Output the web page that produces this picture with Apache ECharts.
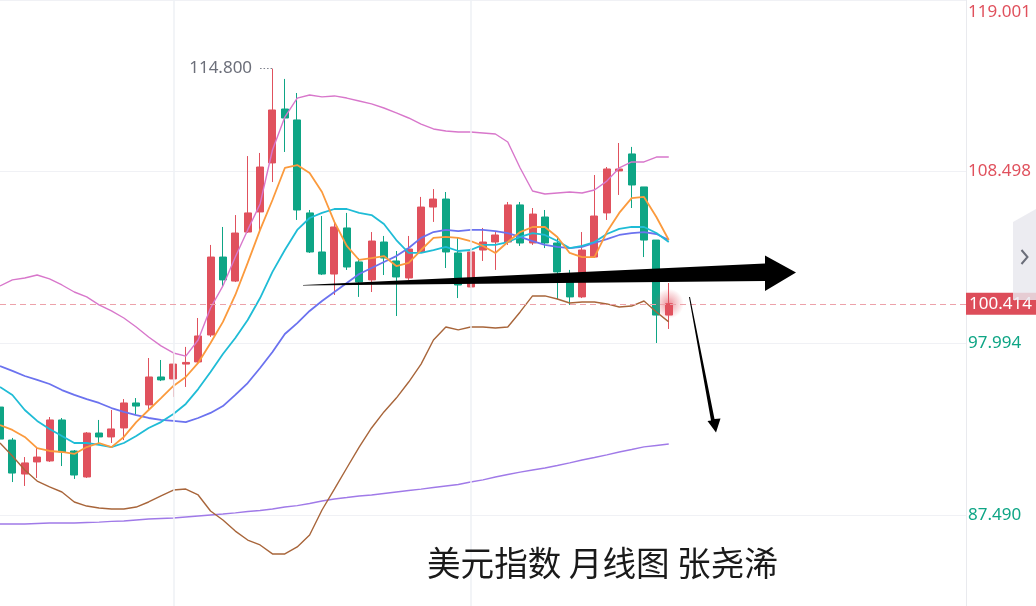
<!DOCTYPE html>
<html>
<head>
<meta charset="utf-8">
<script src="https://cdn.jsdelivr.net/npm/echarts@6/dist/echarts.min.js"></script>
<style>
  html, body { margin: 0; padding: 0; background: #ffffff; }
  #chart { width: 1036px; height: 606px; }
</style>
</head>
<body>
<div id="chart"></div>
<script>
// Monthly bars, 2020-11 .. 2025-05
const months = [
  '2020-11','2020-12',
  '2021-01','2021-02','2021-03','2021-04','2021-05','2021-06','2021-07','2021-08','2021-09','2021-10','2021-11','2021-12',
  '2022-01','2022-02','2022-03','2022-04','2022-05','2022-06','2022-07','2022-08','2022-09','2022-10','2022-11','2022-12',
  '2023-01','2023-02','2023-03','2023-04','2023-05','2023-06','2023-07','2023-08','2023-09','2023-10','2023-11','2023-12',
  '2024-01','2024-02','2024-03','2024-04','2024-05','2024-06','2024-07','2024-08','2024-09','2024-10','2024-11','2024-12',
  '2025-01','2025-02','2025-03','2025-04','2025-05'
];
const emptySlots = 24; // blank space to the right of the last bar

const open = [94.09, 92.07, 89.99, 90.73, 90.79, 93.30, 91.40, 89.81, 92.50, 92.26, 92.81, 94.34, 94.22, 95.93, 95.81, 96.72, 96.85, 98.50, 103.27, 101.80, 104.80, 106.03, 109.03, 112.33, 111.66, 105.97, 103.58, 102.23, 105.05, 102.97, 101.87, 104.19, 103.03, 101.99, 103.58, 106.33, 106.82, 103.52, 101.44, 103.70, 104.19, 104.19, 106.46, 104.13, 105.72, 104.13, 102.11, 100.83, 103.27, 105.97, 108.54, 109.58, 107.56, 104.31, 99.72];
const close = [92.13, 90.05, 90.67, 91.03, 93.30, 91.34, 89.93, 92.50, 92.26, 92.75, 94.34, 94.15, 95.93, 95.75, 96.72, 96.82, 98.44, 103.27, 101.87, 104.74, 105.97, 108.78, 112.27, 111.78, 106.15, 103.58, 102.23, 105.11, 102.66, 101.74, 104.25, 103.21, 102.05, 103.76, 106.33, 106.82, 103.58, 101.56, 103.58, 104.19, 104.62, 106.46, 104.13, 105.90, 104.13, 102.36, 100.83, 103.70, 105.78, 108.66, 108.66, 107.68, 104.31, 99.72, 100.414];
const low = [91.95, 89.50, 89.26, 89.75, 90.73, 90.48, 89.69, 89.75, 91.89, 91.89, 92.07, 93.60, 93.91, 95.68, 94.71, 95.32, 96.79, 98.38, 101.44, 101.74, 104.74, 104.74, 107.86, 109.70, 105.54, 103.52, 102.17, 100.95, 102.48, 100.83, 101.13, 102.17, 99.66, 101.87, 103.52, 105.42, 102.60, 100.76, 101.38, 103.03, 102.48, 104.01, 103.95, 104.01, 103.82, 100.70, 100.34, 100.76, 103.21, 105.54, 107.07, 106.27, 103.27, 98.01, 98.87];
const high = [94.52, 92.20, 91.03, 91.65, 93.48, 93.42, 91.46, 92.56, 93.30, 93.91, 94.58, 94.64, 97.09, 96.97, 97.46, 97.77, 99.54, 104.01, 105.11, 105.84, 109.45, 109.64, 114.80, 114.17, 113.31, 106.15, 105.78, 105.42, 105.97, 103.21, 104.80, 104.56, 103.64, 104.56, 106.95, 107.43, 107.25, 104.44, 103.82, 105.05, 104.80, 106.64, 106.64, 106.27, 106.15, 104.50, 102.48, 104.80, 108.29, 108.78, 110.25, 110.01, 107.56, 104.31, 101.68];

const ma5 = [92.99, 92.69, 92.26, 91.58, 91.40, 91.34, 91.22, 91.64, 91.89, 91.64, 92.26, 93.17, 93.91, 94.64, 95.38, 95.93, 96.79, 98.01, 99.30, 100.95, 102.91, 104.93, 106.76, 108.72, 108.90, 108.41, 107.25, 105.42, 103.95, 103.09, 103.21, 103.33, 102.72, 102.91, 103.70, 104.44, 104.50, 104.44, 104.25, 103.95, 103.52, 104.19, 104.80, 105.11, 105.11, 104.50, 103.52, 103.27, 103.27, 104.80, 105.97, 106.88, 106.95, 105.72, 104.31];
const ma10 = [95.32, 94.83, 93.91, 93.24, 92.75, 92.32, 91.89, 91.89, 91.77, 91.64, 91.89, 92.32, 92.81, 93.17, 93.66, 94.28, 95.19, 96.24, 97.34, 98.32, 99.42, 100.76, 102.36, 103.70, 104.93, 105.66, 105.97, 106.21, 106.21, 105.97, 105.84, 105.29, 104.31, 103.52, 103.52, 103.70, 103.89, 103.64, 103.70, 104.01, 104.01, 104.19, 104.50, 104.74, 104.62, 104.25, 103.82, 103.95, 104.19, 104.68, 104.99, 105.11, 105.11, 104.74, 104.19];
const ma20 = [96.60, 96.30, 95.99, 95.75, 95.50, 95.13, 94.83, 94.58, 94.34, 94.03, 93.79, 93.60, 93.42, 93.30, 93.24, 93.17, 93.42, 93.73, 94.15, 94.83, 95.56, 96.48, 97.46, 98.56, 99.23, 99.97, 100.58, 101.13, 101.68, 102.23, 102.60, 102.97, 103.33, 103.82, 104.44, 104.80, 104.93, 104.86, 104.93, 104.93, 104.86, 104.74, 104.50, 104.25, 104.01, 103.89, 103.82, 103.89, 104.13, 104.37, 104.62, 104.74, 104.80, 104.68, 104.31];
const bandUpper = [101.50, 101.87, 101.99, 102.17, 101.93, 101.56, 101.13, 100.83, 100.34, 99.97, 99.54, 98.99, 98.38, 97.83, 97.40, 97.21, 98.19, 100.15, 101.50, 103.27, 104.93, 106.52, 109.82, 111.84, 113.00, 113.19, 113.07, 113.13, 113.00, 112.82, 112.64, 112.39, 112.09, 111.78, 111.41, 111.11, 110.98, 110.92, 110.92, 110.86, 110.80, 110.31, 108.72, 107.31, 107.13, 107.19, 107.25, 107.19, 107.37, 107.92, 108.72, 109.09, 109.09, 109.39, 109.39];
const bandLower = [91.89, 91.09, 90.24, 89.56, 89.20, 88.89, 88.28, 88.03, 87.91, 87.85, 87.85, 87.97, 88.28, 88.65, 89.01, 89.07, 88.71, 87.73, 87.18, 86.50, 85.95, 85.65, 85.10, 85.10, 85.53, 86.26, 87.79, 89.07, 90.36, 91.64, 92.81, 93.79, 94.64, 95.62, 96.72, 98.19, 98.99, 98.81, 98.99, 98.99, 98.93, 98.99, 99.91, 100.89, 100.89, 100.70, 100.46, 100.52, 100.52, 100.40, 100.21, 100.27, 100.58, 99.91, 99.30];
const maLong = [86.93, 86.93, 86.93, 86.96, 86.99, 86.99, 86.99, 87.02, 87.05, 87.09, 87.12, 87.18, 87.24, 87.27, 87.30, 87.36, 87.42, 87.48, 87.54, 87.61, 87.70, 87.76, 87.85, 87.97, 88.06, 88.19, 88.34, 88.46, 88.55, 88.65, 88.71, 88.80, 88.89, 88.98, 89.07, 89.17, 89.26, 89.35, 89.50, 89.63, 89.81, 89.96, 90.11, 90.24, 90.36, 90.51, 90.67, 90.85, 91.00, 91.16, 91.34, 91.49, 91.65, 91.74, 91.83];

const yTicks = [87.490, 97.994, 108.498, 119.001];
const lastPrice = 100.414;
const peakValue = 114.800;
const peakIndex = 22;
const yearMarks = ['2022-01', '2024-01'];
const titleText = '美元指数 月线图 张尧浠';

const UP = '#e0515d';
const DOWN = '#0ea585';

const candleData = open.map((o, i) => [o, close[i], low[i], high[i]]);
const axisCategories = months.concat(new Array(emptySlots).fill(''));

function lineSeries(name, data, color, width, z) {
  return {
    name, type: 'line', data, z,
    symbol: 'none', silent: true,
    lineStyle: { color, width },
    animation: false
  };
}

const chart = echarts.init(document.getElementById('chart'), null, { renderer: 'canvas' });

const longSeries = lineSeries('MA60', maLong, '#a07ae8', 1.4, 1);
longSeries.markLine = {
  silent: true, symbol: ['none', 'none'], animation: false,
  data: [
    { xAxis: yearMarks[0], lineStyle: { color: '#eef0f4', width: 1.5, type: 'solid' }, label: { show: false } },
    { xAxis: yearMarks[1], lineStyle: { color: '#eef0f4', width: 1.5, type: 'solid' }, label: { show: false } },
    {
      yAxis: lastPrice,
      lineStyle: { color: '#eda2aa', width: 1, type: [6, 4] },
      label: {
        show: true, position: 'end', distance: 0,
        formatter: lastPrice.toFixed(3),
        color: '#ffffff', backgroundColor: '#dd4d5a',
        fontFamily: 'Noto Sans', fontSize: 17,
        padding: [3, 8, 2, 3]
      }
    }
  ]
};

chart.setOption({
  animation: false,
  backgroundColor: '#ffffff',
  grid: { left: 0, right: 70, top: 0, bottom: 0, containLabel: false },
  xAxis: {
    type: 'category',
    data: axisCategories,
    boundaryGap: false,
    axisLine: { show: false },
    axisTick: { show: false },
    axisLabel: { show: false },
    splitLine: { show: false }
  },
  yAxis: {
    type: 'value',
    position: 'right',
    min: 81.914,
    max: 119.001,
    scale: true,
    axisLine: { show: true, lineStyle: { color: '#e9eaee', width: 1 } },
    axisTick: { show: false, customValues: yTicks },
    splitLine: { show: true, lineStyle: { color: '#f0f1f5', width: 1 } },
    axisLabel: {
      show: true,
      customValues: yTicks,
      margin: 2,
      fontFamily: 'Noto Sans',
      fontSize: 17,
      formatter: function (v) {
        const txt = v.toFixed(3);
        if (v >= 119) return '{top|' + txt + '}';
        return v > lastPrice ? '{up|' + txt + '}' : '{dn|' + txt + '}';
      },
      rich: {
        top: { color: UP, fontFamily: 'Noto Sans', fontSize: 17, padding: [24, 0, 0, 0] },
        up: { color: UP, fontFamily: 'Noto Sans', fontSize: 17 },
        dn: { color: DOWN, fontFamily: 'Noto Sans', fontSize: 17 }
      }
    }
  },
  series: [
    longSeries,
    {
      name: 'K', type: 'candlestick', z: 2,
      data: candleData,
      barWidth: 7.5,
      itemStyle: { color: UP, color0: DOWN, borderColor: UP, borderColor0: DOWN, borderWidth: 1 },
      markLine: {
        silent: true, symbol: ['none', 'none'], animation: false,
        data: [[
          { coord: [peakIndex - 1, peakValue] },
          { coord: [peakIndex, peakValue] }
        ]],
        lineStyle: { color: '#7b7e89', width: 1.2, type: [1.5, 2] },
        label: {
          show: true, position: 'start', distance: 8,
          formatter: peakValue.toFixed(3),
          color: '#6c6f7a', fontFamily: 'Noto Sans', fontSize: 17,
          padding: [8, 0, 0, 0]
        }
      }
    },
    lineSeries('UP', bandUpper, '#d877cb', 1.4, 3),
    lineSeries('DN', bandLower, '#a8653a', 1.4, 3),
    lineSeries('MA20', ma20, '#6b72ef', 1.8, 3),
    lineSeries('MA10', ma10, '#1fbcd6', 1.8, 3),
    lineSeries('MA5', ma5, '#fb9a3d', 1.8, 3),
    {
      name: 'last', type: 'scatter', z: 4, silent: true,
      data: [[months.length - 1, lastPrice]],
      symbol: 'circle', symbolSize: 30,
      itemStyle: {
        color: {
          type: 'radial', x: 0.5, y: 0.5, r: 0.5,
          colorStops: [
            { offset: 0, color: 'rgba(226,80,94,0.8)' },
            { offset: 0.45, color: 'rgba(226,80,94,0.4)' },
            { offset: 1, color: 'rgba(226,80,94,0)' }
          ]
        }
      }
    }
  ],
  graphic: [
    // sideways trend arrow
    {
      type: 'polygon', z: 50, silent: true,
      shape: { points: [[303, 285], [765, 263.5], [765, 255.5], [796, 272.5], [765, 291], [765, 281], [303, 285.6]] },
      style: { fill: '#000000' }
    },
    // downward arrow
    {
      type: 'polygon', z: 50, silent: true,
      shape: { points: [[689, 297], [690, 297], [714.5, 419], [720.5, 418.5], [716, 432.5], [707.5, 421], [711, 420.5]] },
      style: { fill: '#000000' }
    },
    // side panel with chevron
    {
      type: 'polygon', z: 60, silent: true,
      shape: { points: [[1013, 222], [1036, 209], [1036, 300], [1013, 300]] },
      style: { fill: 'rgba(232,232,238,0.82)' }
    },
    {
      type: 'polyline', z: 61, silent: true,
      shape: { points: [[1021.5, 250], [1027.5, 257], [1021.5, 264]] },
      style: { stroke: '#6b6e7a', lineWidth: 2, fill: null }
    },
    {
      type: 'text', z: 70, silent: true,
      left: 427, top: 546,
      style: {
        text: titleText,
        fill: '#1a1a1a',
        font: '33.6px "Noto Sans CJK SC", "Noto Sans", sans-serif'
      }
    }
  ]
});
</script>
</body>
</html>
